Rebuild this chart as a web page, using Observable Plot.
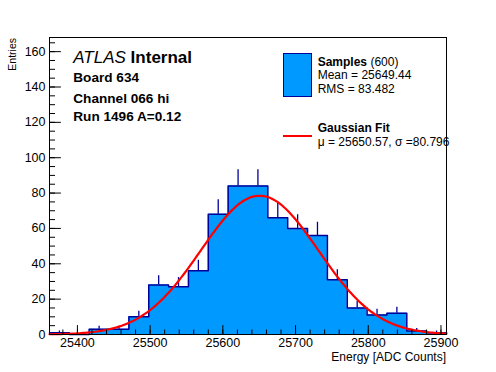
<!DOCTYPE html>
<html><head><meta charset="utf-8">
<script src="https://cdn.jsdelivr.net/npm/d3@7"></script>
<script src="https://cdn.jsdelivr.net/npm/@observablehq/plot@0.6"></script>
<style>
body{margin:0;background:#fff;}
svg{font-family:"Liberation Sans", Arial, Helvetica, sans-serif;}
</style>
</head><body><div id="chart"></div>
<script>
// Histogram: 20 bins from xMin with width binWidth
const xMin = 25361.6;
const xMax = 25907.6;
const binWidth = 27.3;
const counts = [1, 0, 3, 3, 10, 28, 27, 36, 68, 84, 84, 66, 60, 56, 31, 15, 11, 12, 2, 1];
const yMax = 168;
// Gaussian fit parameters
const fitMu = 25650.57;
const fitSigma = 80.796;
const fitAmp = 78.5;
// Axis ticks
const xMajorTicks = [25400, 25500, 25600, 25700, 25800, 25900];
const xMinorTicks = d3.range(25380, 25901, 20);
const yMajorTicks = [0, 20, 40, 60, 80, 100, 120, 140, 160];
const yMinorTicks = d3.range(0, 166, 5);
// Texts
const headerLines = ["Board 634", "Channel 066 hi", "Run 1496 A=0.12"];
const statsLines = ["Mean = 25649.44", "RMS = 83.482"];
const fitLine = "\u03BC = 25650.57, \u03C3 =80.796";

const fillColor = "#0099ff";
const lineColor = "#000099";

const stepData = counts.map((c, i) => ({x: xMin + i * binWidth, y: c}));
stepData.push({x: xMin + counts.length * binWidth, y: counts[counts.length - 1]});
const errData = counts.map((c, i) => ({x: xMin + (i + 0.5) * binWidth, c}))
  .filter(d => d.c > 0);
const fitData = d3.range(0, 201).map(k => {
  const x = xMin + (xMax - xMin) * k / 200;
  return {x, y: fitAmp * Math.exp(-0.5 * ((x - fitMu) / fitSigma) ** 2)};
});

const W = 496, H = 372, mL = 49, mR = 50, mT = 37, mB = 38;
const fw = W - mL - mR, fh = H - mT - mB;

const chart = Plot.plot({
  width: W, height: H,
  marginLeft: mL, marginRight: mR, marginTop: mT, marginBottom: mB,
  style: {background: "#fff", fontFamily: "Liberation Sans, Arial, sans-serif"},
  x: {domain: [xMin, xMax]},
  y: {domain: [0, yMax]},
  marks: [
    Plot.areaY(stepData, {x: "x", y: "y", curve: "step-after", fill: fillColor}),
    Plot.lineY(stepData, {x: "x", y: "y", curve: "step-after", stroke: lineColor, strokeWidth: 1.5}),
    Plot.ruleX(errData, {x: "x", y1: "c", y2: d => d.c + Math.sqrt(d.c), stroke: lineColor, strokeWidth: 1.3}),
    Plot.line(fitData, {x: "x", y: "y", stroke: "#ff0000", strokeWidth: 2.2}),
    Plot.tickX(xMajorTicks, {x: d => d, stroke: "black", insetTop: fh - 8.9}),
    Plot.tickX(xMinorTicks, {x: d => d, stroke: "black", insetTop: fh - 4.5}),
    Plot.tickY(yMajorTicks, {y: d => d, stroke: "black", insetRight: fw - 11.9}),
    Plot.tickY(yMinorTicks, {y: d => d, stroke: "black", insetRight: fw - 6}),
    Plot.axisX({ticks: xMajorTicks, tickSize: 0, tickPadding: 3.5, tickFormat: d => String(d), fontSize: 12.5, label: null, fill: "black"}),
    Plot.axisY({ticks: yMajorTicks, tickSize: 0, tickPadding: 4, tickFormat: d => String(d), fontSize: 12.5, label: null, fill: "black"}),
    Plot.frame({stroke: "black", strokeWidth: 1})
  ]
});
document.getElementById("chart").appendChild(chart);

const s = d3.select(chart);
const g = s.append("g").attr("text-anchor", "start").attr("fill", "black");
function txt(x, y, str, size, opts = {}) {
  const t = g.append("text").attr("x", x).attr("y", y).attr("font-size", size)
    .attr("text-anchor", "start").attr("fill", "black").text(str);
  for (const k in opts) t.attr(k, opts[k]);
  return t;
}
// Header
const atlas = g.append("text").attr("x", 73.3).attr("y", 63.3).attr("font-size", 17)
  .attr("text-anchor", "start").attr("fill", "black");
atlas.append("tspan").attr("font-style", "italic").text("ATLAS");
atlas.append("tspan").attr("font-weight", "bold").text(" Internal");
txt(73.3, 81.7, headerLines[0], 13.6, {"font-weight": "bold"});
txt(73.3, 102.7, headerLines[1], 13.6, {"font-weight": "bold"});
txt(73.3, 120.7, headerLines[2], 13.6, {"font-weight": "bold"});
// Legend
g.append("rect").attr("x", 283.5).attr("y", 53.5).attr("width", 28).attr("height", 43)
  .attr("fill", fillColor).attr("stroke", lineColor).attr("stroke-width", 1);
const sm = g.append("text").attr("x", 317.7).attr("y", 65.7).attr("font-size", 12)
  .attr("text-anchor", "start").attr("fill", "black");
sm.append("tspan").attr("font-weight", "bold").text("Samples");
sm.append("tspan").text(" (600)");
txt(317.7, 79, statsLines[0], 12);
txt(317.7, 93.3, statsLines[1], 12);
g.append("line").attr("x1", 283).attr("x2", 312).attr("y1", 136).attr("y2", 136)
  .attr("stroke", "#ff0000").attr("stroke-width", 2);
txt(317.7, 132, "Gaussian Fit", 12, {"font-weight": "bold"});
txt(317.7, 145.5, fitLine, 12);
// Axis titles
txt(446, 360.5, "Energy [ADC Counts]", 12, {"text-anchor": "end"});
txt(0, 0, "Entries", 10.5, {"text-anchor": "end", "transform": "translate(16,38) rotate(-90)"});
</script>
</body></html>
